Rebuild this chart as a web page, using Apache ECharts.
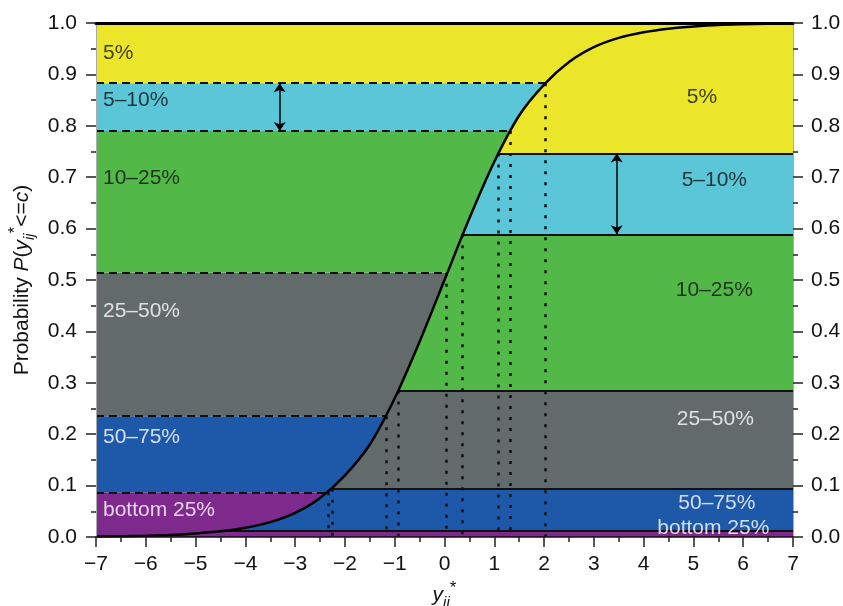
<!DOCTYPE html>
<html>
<head>
<meta charset="utf-8">
<script src="https://cdn.jsdelivr.net/npm/echarts@6/dist/echarts.min.js"></script>
<style>
html,body{margin:0;padding:0;background:#fff;}
#chart{width:843px;height:606px;}
</style>
</head>
<body>
<div id="chart"></div>
<script>
// band names, bottom to top
var bandNames = ['bottom 25%', '50–75%', '25–50%', '10–25%', '5–10%', '5%'];
// where the bands meet, left of the curve (dashed) and right of it (solid)
var leftCutY = [0.087, 0.235, 0.514, 0.790, 0.883];
var leftCutX = [-2.34, -1.16, 0.04, 1.33, 2.02];
var rightCutY = [0.012, 0.094, 0.285, 0.589, 0.746];
var rightCutX = [-4.41, -2.26, -0.92, 0.36, 1.07];
// the cumulative curve
var curveX = [-7, -6.5, -6, -5.5, -5, -4.5, -4, -3.5, -3, -2.5, -2, -1.5, -1, -0.5, 0, 0.5, 1, 1.5, 2, 2.5, 3, 3.5, 4, 4.5, 5, 5.5, 6, 6.5, 7];
var curveY = [0.001, 0.0015, 0.0025, 0.004, 0.007, 0.011, 0.018, 0.029, 0.047, 0.076, 0.12, 0.18, 0.27, 0.38, 0.50, 0.62, 0.73, 0.82, 0.88, 0.924, 0.953, 0.971, 0.982, 0.989, 0.993, 0.996, 0.9975, 0.9985, 0.999];

var colors = ['#7e2a8c', '#1e58a8', '#626a6b', '#52b848', '#5bc6d8', '#ece62b'];
var textColors = ['#fff', '#fff', '#fff', '#111', '#111', '#111'];
var FONT = '"Liberation Sans", Arial, sans-serif';

var myChart = echarts.init(document.getElementById('chart'));

var curveData = curveX.map(function(x, i){ return [x, curveY[i]]; });
var leftEdges = [0].concat(leftCutY).concat([1]);
var rightEdges = [0].concat(rightCutY).concat([1]);

// left bands = full width background, the area under the curve covers it
var leftAreas = [];
var pieces = [];
for (var i = 0; i < bandNames.length; i++) {
    leftAreas.push([{yAxis: leftEdges[i], itemStyle: {color: colors[i], opacity: 1}}, {yAxis: leftEdges[i + 1]}]);
    pieces.push({gte: rightEdges[i], lt: i == bandNames.length - 1 ? 1.01 : rightEdges[i + 1], color: colors[i]});
}

var lines = [];
leftCutY.forEach(function(y, i){
    lines.push([{coord: [-7, y], lineStyle: {type: [8, 5], width: 2, color: '#111'}}, {coord: [leftCutX[i], y]}]);
    lines.push([{coord: [leftCutX[i], y], lineStyle: {type: [3, 8], width: 2.5, color: '#111'}}, {coord: [leftCutX[i], 0]}]);
});
rightCutY.forEach(function(y, i){
    lines.push([{coord: [rightCutX[i], y], lineStyle: {type: 'solid', width: 2, color: '#111'}}, {coord: [7, y]}]);
    if (i > 0) {
        lines.push([{coord: [rightCutX[i], y], lineStyle: {type: [3, 8], width: 2.5, color: '#111'}}, {coord: [rightCutX[i], 0]}]);
    }
});

// arrows that mark the 5-10% band height on each side
var arrows = [
    [{coord: [-3.31, leftCutY[4]]}, {coord: [-3.31, leftCutY[3]]}],
    [{coord: [3.46, rightCutY[4]]}, {coord: [3.46, rightCutY[3]]}]
];

// label spots
var leftLabelY = [0.052, 0.194, 0.439, 0.698, 0.849, 0.941];
var rightLabelX = [5.40, 5.47, 5.44, 5.42, 5.42, 5.17];
var rightLabelY = [0.0175, 0.066, 0.230, 0.481, 0.695, 0.856];
var leftLabels = bandNames.map(function(n, i){
    return {value: [-6.86, leftLabelY[i], n], label: {color: textColors[i]}};
});
var rightLabels = bandNames.map(function(n, i){
    return {value: [rightLabelX[i], rightLabelY[i], n], label: {color: textColors[i]}};
});

function minus(v){ return v < 0 ? '\u2212' + Math.abs(v) : String(v); }

var tickStyle = {length: 10, lineStyle: {color: '#222', width: 1.5}};
var minorStyle = {show: true, splitNumber: 2, length: 5, lineStyle: {color: '#222', width: 1.5}};
var rich = {
    i: {fontStyle: 'italic', fontSize: 21, lineHeight: 30, fontFamily: FONT, color: '#111'},
    sub: {fontStyle: 'italic', fontSize: 15, lineHeight: 16, verticalAlign: 'bottom', fontFamily: FONT, color: '#111'},
    sup: {fontSize: 17, lineHeight: 14, verticalAlign: 'top', fontFamily: FONT, color: '#111'}
};

var option = {
    animation: false,
    backgroundColor: '#fff',
    grid: {left: 96, right: 50, top: 23, bottom: 69, containLabel: false, outerBoundsMode: 'none'},
    visualMap: {
        type: 'piecewise',
        show: false,
        seriesIndex: 0,
        dimension: 1,
        pieces: pieces
    },
    xAxis: [
        {
            type: 'value', min: -7, max: 7, interval: 1, position: 'bottom', z: 10,
            name: '{i|y}{sub|ij}{sup|*}',
            nameLocation: 'middle', nameGap: 32,
            nameTextStyle: {fontSize: 21, lineHeight: 30, fontFamily: FONT, color: '#111', rich: rich},
            axisLine: {onZero: false, lineStyle: {color: '#111', width: 1.5}},
            axisTick: tickStyle,
            minorTick: minorStyle,
            splitLine: {show: false},
            axisLabel: {fontSize: 21, fontFamily: FONT, color: '#111', margin: 17, formatter: minus}
        },
        {
            type: 'value', min: -7, max: 7, position: 'top', z: 10,
            axisLine: {onZero: false, lineStyle: {color: '#000', width: 3}},
            axisTick: {show: false},
            axisLabel: {show: false},
            splitLine: {show: false}
        }
    ],
    yAxis: [
        {
            type: 'value', min: 0, max: 1, interval: 0.1, position: 'left', z: 10,
            name: 'Probability {i|P}({i|y}{sub|ij}{sup|*}<={i|c})',
            nameLocation: 'middle', nameGap: 52, nameRotate: 90,
            nameTextStyle: {fontSize: 21, lineHeight: 30, fontFamily: FONT, color: '#111', rich: rich},
            axisLine: {show: true, onZero: false, lineStyle: {color: '#aaa', width: 1}},
            axisTick: tickStyle,
            minorTick: minorStyle,
            splitLine: {show: false},
            axisLabel: {fontSize: 21, fontFamily: FONT, color: '#111', margin: 19, formatter: function(v){ return v.toFixed(1); }}
        },
        {
            type: 'value', min: 0, max: 1, interval: 0.1, position: 'right', z: 10,
            axisLine: {show: true, onZero: false, lineStyle: {color: '#aaa', width: 1}},
            axisTick: tickStyle,
            minorTick: minorStyle,
            splitLine: {show: false},
            axisLabel: {fontSize: 21, fontFamily: FONT, color: '#111', margin: 18, formatter: function(v){ return v.toFixed(1); }}
        }
    ],
    series: [
        {
            type: 'line',
            data: curveData,
            smooth: 0.3,
            symbol: 'none',
            z: 2,
            lineStyle: {width: 0},
            areaStyle: {opacity: 1},
            markArea: {silent: true, z: 1, data: leftAreas}
        },
        {
            type: 'line',
            data: curveData,
            smooth: 0.3,
            symbol: 'none',
            z: 6,
            lineStyle: {color: '#000', width: 2.5},
            markLine: {
                silent: true,
                symbol: 'none',
                label: {show: false},
                data: lines
            }
        },
        {
            type: 'line',
            data: [],
            z: 7,
            markLine: {
                silent: true,
                symbol: ['arrow', 'arrow'],
                symbolSize: 9,
                label: {show: false},
                lineStyle: {color: '#000', width: 1.5, type: 'solid'},
                data: arrows
            }
        },
        {
            type: 'scatter',
            symbolSize: 0,
            z: 8,
            data: leftLabels,
            label: {show: true, position: 'inside', align: 'left', fontSize: 21, fontFamily: FONT,
                formatter: function(p){ return p.value[2]; }}
        },
        {
            type: 'scatter',
            symbolSize: 0,
            z: 8,
            data: rightLabels,
            label: {show: true, position: 'inside', align: 'center', fontSize: 21, fontFamily: FONT,
                formatter: function(p){ return p.value[2]; }}
        }
    ]
};

myChart.setOption(option);
</script>
</body>
</html>
